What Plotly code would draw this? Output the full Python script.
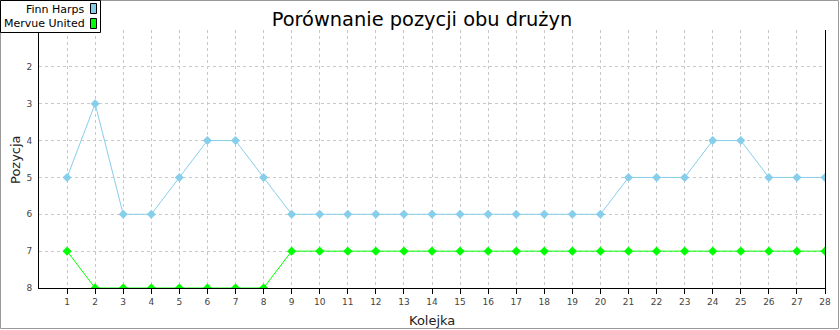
import plotly.graph_objects as go

rounds = list(range(1, 29))
finn_harps = [5, 3, 6, 6, 5, 4, 4, 5, 6, 6, 6, 6, 6, 6, 6, 6, 6, 6, 6, 6, 5, 5, 5, 4, 4, 5, 5, 5]
mervue_united = [7, 8, 8, 8, 8, 8, 8, 8, 7, 7, 7, 7, 7, 7, 7, 7, 7, 7, 7, 7, 7, 7, 7, 7, 7, 7, 7, 7]
series_names = ["Finn Harps", "Mervue United"]
series_colors = ["#87CEEB", "#00FF00"]
y_ticks = [1, 2, 3, 4, 5, 6, 7, 8]
y_ticktext = ["", "2", "3", "4", "5", "6", "7", "8"]

W, H = 840, 330
L, R, T, B = 39, 15, 30, 42
pw, ph = W - L - R, H - T - B

def px(x):
    return (x - L) / pw

def py(y):
    return 1 - (y - T) / ph

FONT = "DejaVu Sans"

fig = go.Figure()
for name, vals, col in zip(series_names, [finn_harps, mervue_united], series_colors):
    fig.add_trace(go.Scatter(
        x=rounds, y=vals, name=name, mode="lines+markers",
        line=dict(color=col, width=1),
        marker=dict(symbol="diamond", size=7, color=col),
        showlegend=False,
    ))

shapes = []
# outer border
shapes.append(dict(type="rect", xref="paper", yref="paper",
                   x0=px(0.5), x1=px(838.5), y0=py(0.5), y1=py(328.5),
                   line=dict(color="#999999", width=1), layer="above"))
# legend box
shapes.append(dict(type="rect", xref="paper", yref="paper",
                   x0=px(0.5), x1=px(100.5), y0=py(0.5), y1=py(32.5),
                   fillcolor="white", line=dict(color="black", width=1), layer="above"))
annotations = []
for i, (name, col) in enumerate(zip(series_names, series_colors)):
    yc = 9 + i * 15
    shapes.append(dict(type="rect", xref="paper", yref="paper",
                       x0=px(90.5), x1=px(96.5), y0=py(yc - 5.5), y1=py(yc + 4.5),
                       fillcolor=col, line=dict(color="black", width=1), layer="above"))
    annotations.append(dict(text=name, xref="paper", yref="paper",
                            x=px(87), y=py(yc), xanchor="right", yanchor="middle",
                            showarrow=False, font=dict(family=FONT, size=11, color="black")))
# axis titles placed explicitly
annotations.append(dict(text="Kolejka", xref="paper", yref="paper",
                        x=px(432), y=py(320), xanchor="center", yanchor="middle",
                        showarrow=False, font=dict(family=FONT, size=13, color="#222222")))
annotations.append(dict(text="Pozycja", xref="paper", yref="paper",
                        x=px(15), y=py(160), xanchor="center", yanchor="middle",
                        textangle=-90,
                        showarrow=False, font=dict(family=FONT, size=13, color="#222222")))

fig.update_layout(
    width=W, height=H,
    margin=dict(l=L, r=R, t=T, b=B, pad=0, autoexpand=False),
    paper_bgcolor="white", plot_bgcolor="white",
    title=dict(text="Porównanie pozycji obu drużyn", x=422 / W, xref="container",
               xanchor="center",
               y=1 - 19 / H, yanchor="middle",
               font=dict(family=FONT, size=19.4, color="black")),
    font=dict(family=FONT, size=9, color="#444444"),
    shapes=shapes, annotations=annotations,
    xaxis=dict(range=[0, 28], tickvals=rounds, showgrid=True, automargin=False,
               gridcolor="#c8c8c8", griddash="3px,3px", gridwidth=1,
               showline=True, linecolor="black", linewidth=1,
               ticks="outside", ticklen=5, tickcolor="black",
               tickfont=dict(family=FONT, size=9, color="#444444"),
               zeroline=False),
    yaxis=dict(range=[8, 1], tickvals=y_ticks, ticktext=y_ticktext, showgrid=True,
               automargin=False,
               gridcolor="#c8c8c8", griddash="3px,3px", gridwidth=1,
               showline=True, mirror=True, linecolor="black", linewidth=1,
               ticks="", ticklabelstandoff=4,
               tickfont=dict(family=FONT, size=9, color="#444444"),
               zeroline=False),
)

fig.write_html("out.html")
